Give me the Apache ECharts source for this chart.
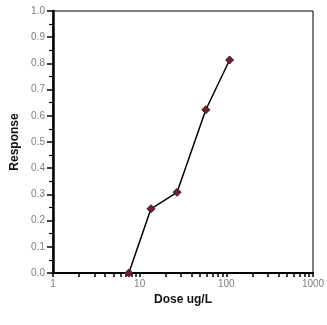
<!DOCTYPE html>
<html><head><meta charset="utf-8">
<script src="https://cdn.jsdelivr.net/npm/echarts@6/dist/echarts.min.js"></script>
<style>html,body{margin:0;padding:0;background:#fff}#c{width:327px;height:325px}</style>
</head><body><div id="c"></div>
<script>
const dose = [7.5, 13.5, 27, 58, 109];
const response = [0.0, 0.245, 0.308, 0.623, 0.813];
const xMajorTicks = [1, 10, 100, 1000];
const xMinorTicks = [2,3,4,5,6,7,8,9,20,30,40,50,60,70,80,90,200,300,400,500,600,700,800,900];
const xAllTicks = xMajorTicks.concat(xMinorTicks).sort((a,b)=>a-b);

const chart = echarts.init(document.getElementById('c'));
const labelStyle = {color:'#808080', fontFamily:'Liberation Sans, Arial', fontSize:10};
chart.setOption({
  animation:false,
  grid:{left:53,right:14,top:11,bottom:52,outerBoundsMode:'none',containLabel:false,show:true,borderColor:'#000',borderWidth:1,backgroundColor:'transparent'},
  xAxis:{
    type:'log', logBase:10, min:1, max:1000, position:'bottom',
    name:'Dose ug/L', nameLocation:'middle', nameGap:21,
    nameTextStyle:{fontFamily:'Liberation Sans, Arial', fontWeight:'bold', fontSize:12, color:'#111'},
    axisLine:{lineStyle:{color:'#000',width:2}},
    axisTick:{show:true, inside:false, length:4, customValues:xAllTicks, lineStyle:{color:'#000',width:1.5}},
    axisLabel:Object.assign({margin:6, customValues:xMajorTicks, formatter:v=>String(v)}, labelStyle),
    splitLine:{show:false}, minorTick:{show:false}
  },
  yAxis:{
    type:'value', min:0, max:1, interval:0.1,
    name:'Response', nameLocation:'middle', nameGap:30,
    nameTextStyle:{fontFamily:'Liberation Sans, Arial', fontWeight:'bold', fontSize:12, color:'#111'},
    axisLine:{show:true, lineStyle:{color:'#000',width:2.5}},
    axisTick:{show:true, inside:false, length:6, lineStyle:{color:'#000',width:1.5}},
    minorTick:{show:true, splitNumber:2, length:4, lineStyle:{color:'#000',width:1.2}},
    axisLabel:Object.assign({margin:8, formatter:v=>v.toFixed(1)}, labelStyle),
    splitLine:{show:false}
  },
  series:[{
    type:'line',
    data: dose.map((d,i)=>[d,response[i]]),
    symbol:'diamond', symbolSize:8,
    itemStyle:{color:'#7a1c2c', borderColor:'#222', borderWidth:1},
    lineStyle:{color:'#000', width:1.5}
  }]
});
</script></body></html>
